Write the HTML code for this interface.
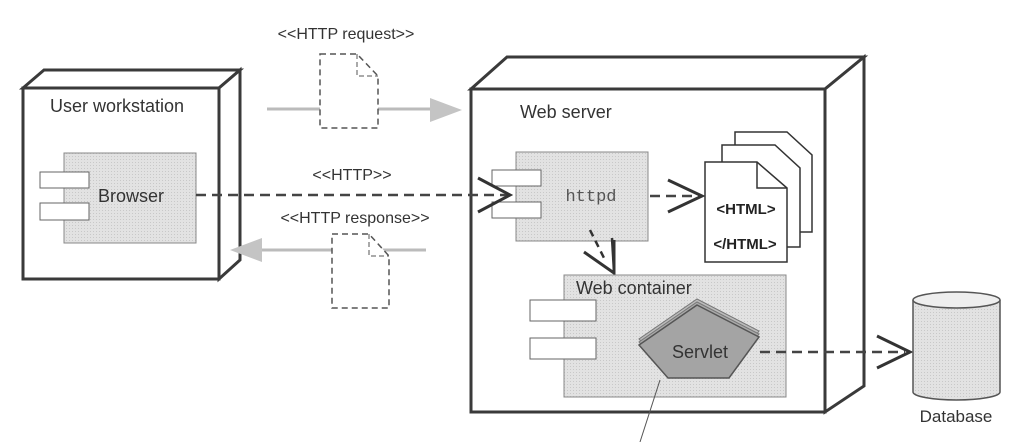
<!DOCTYPE html>
<html><head><meta charset="utf-8"><style>
html,body{margin:0;padding:0;background:#fff;overflow:hidden;}
svg{display:block;font-family:"Liberation Sans",sans-serif;}
</style></head><body>
<svg width="1024" height="442" viewBox="0 0 1024 442" xmlns="http://www.w3.org/2000/svg">
<defs>
<pattern id="dots" width="3" height="3" patternUnits="userSpaceOnUse"><rect width="3" height="3" fill="#e2e2e2"/><rect width="1" height="1" fill="#c8c8c8"/></pattern>
</defs>
<rect width="1024" height="442" fill="#fff"/>
<g stroke="#3a3a3a" stroke-width="3" fill="#fff" stroke-linejoin="miter">
<polygon points="23,88 44,70 240,70 219,88"/>
<polygon points="219,88 240,70 240,260 219,279"/>
<rect x="23" y="88" width="196" height="191"/>
</g>
<text x="50" y="112" font-size="18" fill="#333">User workstation</text>
<rect x="64" y="153" width="132" height="90" fill="url(#dots)" stroke="#888" stroke-width="1"/>
<rect x="40" y="172" width="49" height="16" fill="#fff" stroke="#666" stroke-width="1"/>
<rect x="40" y="203" width="49" height="17" fill="#fff" stroke="#666" stroke-width="1"/>
<text x="98" y="202" font-size="18" fill="#333">Browser</text>

<text x="346" y="39" font-size="16" fill="#333" text-anchor="middle">&lt;&lt;HTTP request&gt;&gt;</text>
<text x="352" y="180" font-size="16" fill="#333" text-anchor="middle">&lt;&lt;HTTP&gt;&gt;</text>
<text x="355" y="223" font-size="16" fill="#333" text-anchor="middle">&lt;&lt;HTTP response&gt;&gt;</text>

<line x1="267" y1="109" x2="435" y2="109" stroke="#bbb" stroke-width="3"/>
<polygon points="430,98 462,110 430,122" fill="#c4c4c4"/>
<path d="M320,54 H357 L378,76 V128 H320 Z" fill="#fff" stroke="#555" stroke-width="1.5" stroke-dasharray="6,4"/>
<path d="M357,54 V76 H378" fill="none" stroke="#555" stroke-width="1" stroke-dasharray="5,3"/>
<line x1="260" y1="250" x2="426" y2="250" stroke="#bbb" stroke-width="3"/>
<polygon points="262,238 230,250 262,262" fill="#c4c4c4"/>
<path d="M332,234 H369 L389,256 V308 H332 Z" fill="#fff" stroke="#555" stroke-width="1.5" stroke-dasharray="6,4"/>
<path d="M369,234 V256 H389" fill="none" stroke="#555" stroke-width="1" stroke-dasharray="5,3"/>

<g stroke="#3a3a3a" stroke-width="3" fill="#fff">
<polygon points="471,89 507,57 864,57 825,89"/>
<polygon points="825,89 864,57 864,386 825,412"/>
<rect x="471" y="89" width="354" height="323"/>
</g>
<text x="520" y="118" font-size="18" fill="#333">Web server</text>

<line x1="196" y1="195" x2="508" y2="195" stroke="#444" stroke-width="2.5" stroke-dasharray="10,6"/>

<rect x="516" y="152" width="132" height="89" fill="url(#dots)" stroke="#888" stroke-width="1"/>
<rect x="492" y="170" width="49" height="16" fill="#fff" stroke="#666" stroke-width="1"/>
<rect x="492" y="202" width="49" height="16" fill="#fff" stroke="#666" stroke-width="1"/>
<text x="591" y="201" font-size="17" fill="#555" text-anchor="middle" font-family="Liberation Mono,monospace">httpd</text>
<polyline points="478,178 510,195 478,212" fill="none" stroke="#333" stroke-width="3"/>

<line x1="650" y1="196" x2="700" y2="196" stroke="#444" stroke-width="2.5" stroke-dasharray="10,6"/>
<polyline points="668,180 702,196 668,212" fill="none" stroke="#333" stroke-width="3"/>

<g stroke="#333" stroke-width="1.5" fill="#fff">
<path d="M735,132 H787 L812,155 V232 H735 Z"/>
<path d="M722,145 H775 L800,168 V247 H722 Z"/>
<path d="M705,162 H757 L787,188 V262 H705 Z"/>
</g>
<path d="M757,162 V188 H787" fill="none" stroke="#333" stroke-width="1.5"/>
<text x="746" y="214" font-size="15" font-weight="bold" fill="#222" text-anchor="middle">&lt;HTML&gt;</text>
<text x="745" y="249" font-size="15" font-weight="bold" fill="#222" text-anchor="middle">&lt;/HTML&gt;</text>

<line x1="590" y1="230" x2="604" y2="258" stroke="#333" stroke-width="2.5" stroke-dasharray="7,5"/>
<line x1="612" y1="238" x2="614" y2="272" stroke="#333" stroke-width="2.5"/>
<polyline points="584,252 614,273 614,240" fill="none" stroke="#333" stroke-width="3"/>

<rect x="564" y="275" width="222" height="122" fill="url(#dots)" stroke="#888" stroke-width="1"/>
<rect x="530" y="300" width="66" height="21" fill="#fff" stroke="#666" stroke-width="1"/>
<rect x="530" y="338" width="66" height="21" fill="#fff" stroke="#666" stroke-width="1"/>
<text x="576" y="294" font-size="18" fill="#333">Web container</text>

<polygon points="697,299 759,331 729,371 668,371 639,339" fill="#bbb" stroke="#777" stroke-width="1"/>
<polygon points="697,302 759,334 729,374 668,374 639,342" fill="#aaa" stroke="#777" stroke-width="1"/>
<polygon points="697,305 759,337 729,378 668,378 639,345" fill="#a4a4a4" stroke="#555" stroke-width="1.5"/>
<text x="700" y="358" font-size="18" fill="#333" text-anchor="middle">Servlet</text>

<line x1="760" y1="352" x2="905" y2="352" stroke="#444" stroke-width="2.5" stroke-dasharray="10,6"/>
<polyline points="877,336 910,352 877,368" fill="none" stroke="#333" stroke-width="3"/>

<path d="M913,300 V392 A43.5,8 0 0 0 1000,392 V300" fill="url(#dots)" stroke="#555" stroke-width="1.5"/>
<ellipse cx="956.5" cy="300" rx="43.5" ry="8" fill="#eee" stroke="#555" stroke-width="1.5"/>
<text x="956" y="422" font-size="17" fill="#333" text-anchor="middle">Database</text>

<line x1="660" y1="380" x2="640" y2="442" stroke="#555" stroke-width="1"/>
</svg>
</body></html>
